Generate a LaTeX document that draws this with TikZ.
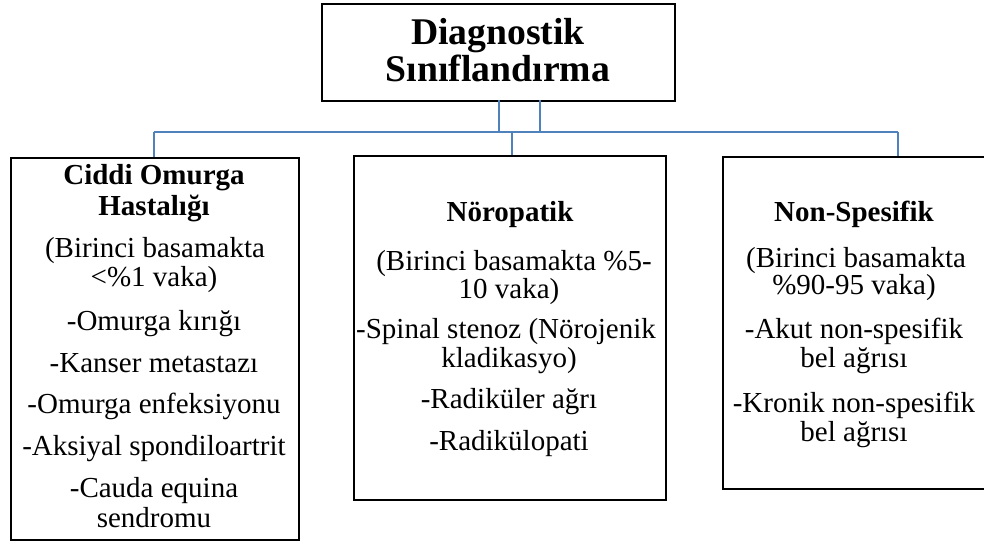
\documentclass[tikz,border=0pt]{standalone}
\usepackage{fontspec}
\setmainfont{Liberation Serif}
\definecolor{connblue}{RGB}{79,129,189}
\tikzset{
  box/.style={draw=black, line width=2pt, fill=white, anchor=north west, inner sep=0pt},
  conn/.style={draw=connblue, line width=2.6pt},
  body/.style={font=\fontsize{29}{29}\selectfont, anchor=base, inner sep=0pt},
  head/.style={body, font=\fontsize{29}{29}\selectfont\bfseries},
  ttl/.style={font=\fontsize{37.7}{37}\selectfont\bfseries, anchor=base, inner sep=0pt}
}
\begin{document}
\begin{tikzpicture}[x=1pt,y=-1pt]
\useasboundingbox (0,0) rectangle (984,545);
% boxes
\node[box, minimum width=353pt, minimum height=97pt] (top) at (321,3) {};
\node[box, minimum width=288pt, minimum height=382pt] (left) at (10,157) {};
\node[box, minimum width=312pt, minimum height=344pt] (mid) at (353,155) {};
\node[box, minimum width=270pt, minimum height=332pt] (right) at (722,156) {};
% connectors
\coordinate (busL) at (154,132);
\coordinate (busR) at (898,132);
\coordinate (topA) at (499,100);
\coordinate (topB) at (540,100);
\coordinate (midD) at (512,132);
\draw[conn] (busL) -- (busR);
\draw[conn] (topA) -- (topA |- busL);
\draw[conn] (topB) -- (topB |- busL);
\draw[conn] (busL) -- (busL |- left.north);
\draw[conn] (midD) -- (midD |- mid.north);
\draw[conn] (busR) -- (busR |- right.north);
% title
\node[ttl] (t1) at (498,45) {Diagnostik};
\node[ttl] (t2) at (498,82) {Sınıflandırma};
% left texts
\node[head] (l1) at (154,185) {Ciddi Omurga};
\node[head] (l2) at (154,215) {Hastalığı};
\node[body] (l3) at (155,258) {(Birinci basamakta};
\node[body] (l4) at (154,286) {<\%1 vaka)};
\node[body] (l5) at (154,330) {-Omurga kırığı};
\node[body] (l6) at (154,372) {-Kanser metastazı};
\node[body] (l7) at (154,413) {-Omurga enfeksiyonu};
\node[body] (l8) at (154,455) {-Aksiyal spondiloartrit};
\node[body] (l9) at (154,497) {-Cauda equina};
\node[body] (l10) at (154,527) {sendromu};
% middle texts
\node[head] (m1) at (510,222) {Nöropatik};
\node[body] (m2) at (514,270) {(Birinci basamakta \%5-};
\node[body] (m3) at (509,298) {10 vaka)};
\node[body] (m4) at (506,338) {-Spinal stenoz (Nörojenik};
\node[body] (m5) at (509,367) {kladikasyo)};
\node[body] (m6) at (509,408) {-Radiküler ağrı};
\node[body] (m7) at (509,450) {-Radikülopati};
% right texts
\node[head] (r1) at (854,222) {Non-Spesifik};
\node[body] (r2) at (856,267) {(Birinci basamakta};
\node[body] (r3) at (854,294) {\%90-95 vaka)};
\node[body] (r4) at (854,338) {-Akut non-spesifik};
\node[body] (r5) at (854,367) {bel ağrısı};
\node[body] (r6) at (854,412) {-Kronik non-spesifik};
\node[body] (r7) at (854,441) {bel ağrısı};
\end{tikzpicture}
\end{document}
